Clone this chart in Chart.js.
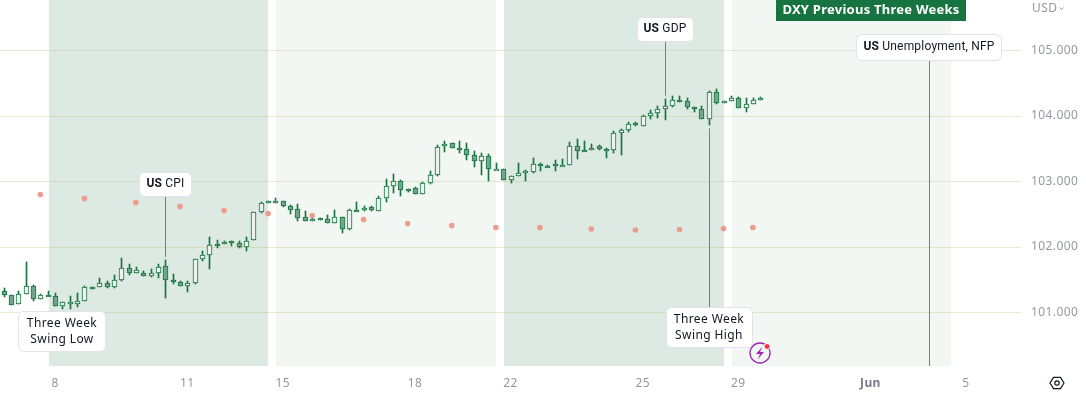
<!DOCTYPE html>
<html lang="en">
<head>
<meta charset="UTF-8">
<title>DXY Previous Three Weeks</title>
<style>
    html, body { margin: 0; padding: 0; background: #fff; }
    canvas { display: block; }
</style>
</head>
<body>
<canvas id="chart" width="1086" height="394"></canvas>
<script src="https://cdn.jsdelivr.net/npm/chart.js@4"></script>
<script>
// 4 hour DXY bars
const openV = [101.336,101.270,101.132,101.285,101.407,101.209,101.270,101.255,101.102,101.132,
    101.132,101.178,101.392,101.392,101.453,101.392,101.499,101.682,101.606,101.606,
    101.560,101.606,101.713,101.499,101.468,101.407,101.453,101.819,101.880,102.048,
    102.064,102.094,102.064,102.003,102.110,102.537,102.674,102.700,102.705,102.628,
    102.582,102.460,102.394,102.445,102.430,102.364,102.460,102.272,102.567,102.562,
    102.613,102.547,102.745,102.928,103.010,102.888,102.903,102.811,102.979,103.101,
    103.544,103.590,103.514,103.498,103.407,103.315,103.392,103.193,103.193,103.025,
    103.086,103.147,103.142,103.269,103.244,103.269,103.244,103.254,103.544,103.483,
    103.483,103.544,103.498,103.483,103.743,103.788,103.895,103.850,104.002,104.048,
    104.109,104.155,104.246,104.231,104.140,104.109,103.956,104.369,104.201,104.231,
    104.277,104.124,104.185,104.246];
const closeV = [101.265,101.117,101.280,101.407,101.209,101.270,101.255,101.102,101.163,101.163,
    101.178,101.392,101.377,101.453,101.392,101.499,101.682,101.606,101.651,101.560,
    101.606,101.697,101.499,101.468,101.407,101.453,101.819,101.880,102.033,102.033,
    102.074,102.064,102.003,102.094,102.537,102.674,102.705,102.710,102.623,102.562,
    102.440,102.394,102.430,102.414,102.364,102.460,102.272,102.567,102.547,102.598,
    102.562,102.750,102.934,103.010,102.873,102.852,102.811,102.979,103.101,103.529,
    103.575,103.514,103.498,103.407,103.315,103.392,103.193,103.193,103.025,103.086,
    103.132,103.163,103.269,103.234,103.234,103.249,103.254,103.544,103.468,103.463,
    103.514,103.498,103.488,103.743,103.788,103.880,103.880,104.002,104.048,104.109,
    104.155,104.246,104.216,104.140,104.109,103.956,104.369,104.201,104.231,104.277,
    104.124,104.185,104.246,104.277];
const highV = [101.382,101.270,101.331,101.779,101.422,101.285,101.331,101.300,101.163,101.255,
    101.300,101.407,101.392,101.529,101.484,101.575,101.835,101.743,101.697,101.636,
    101.667,101.743,101.804,101.590,101.484,101.484,101.819,101.942,102.155,102.110,
    102.094,102.094,102.094,102.155,102.537,102.690,102.705,102.751,102.705,102.643,
    102.659,102.552,102.455,102.445,102.491,102.567,102.460,102.582,102.689,102.628,
    102.628,102.781,103.040,103.117,103.025,102.888,102.918,102.995,103.163,103.560,
    103.621,103.590,103.621,103.590,103.468,103.437,103.422,103.285,103.193,103.086,
    103.285,103.178,103.361,103.285,103.254,103.330,103.346,103.605,103.651,103.621,
    103.575,103.559,103.514,103.773,103.804,103.911,103.911,104.017,104.094,104.155,
    104.262,104.308,104.308,104.277,104.140,104.155,104.384,104.414,104.231,104.308,
    104.287,104.277,104.277,104.292];
const lowV = [101.234,101.117,101.132,101.285,101.173,101.209,101.255,101.102,101.051,101.056,
    101.082,101.178,101.377,101.392,101.377,101.377,101.484,101.575,101.606,101.560,
    101.545,101.529,101.219,101.438,101.407,101.311,101.438,101.789,101.662,101.987,
    102.043,102.018,101.987,101.942,102.110,102.522,102.674,102.679,102.608,102.501,
    102.394,102.394,102.394,102.414,102.364,102.364,102.211,102.257,102.547,102.547,
    102.547,102.547,102.684,102.822,102.776,102.837,102.811,102.811,102.964,103.086,
    103.453,103.514,103.437,103.330,103.224,103.101,103.010,103.193,103.025,102.979,
    103.086,103.015,103.127,103.168,103.229,103.168,103.234,103.254,103.341,103.463,
    103.483,103.483,103.356,103.432,103.402,103.753,103.855,103.850,103.951,103.972,
    103.941,104.140,104.216,104.114,104.063,103.956,103.860,104.185,104.201,104.231,
    104.124,104.063,104.185,104.246];

// daily salmon dots
const dotIndex = [5,11,18,24,30,36,42,49,55,61,67,73,80,86,92,98,102];
const dotPrice = [102.802,102.740,102.679,102.618,102.557,102.511,102.481,102.420,102.359,102.328,
    102.298,102.298,102.275,102.260,102.267,102.282,102.298];

const slotCount = 139;
const tickIndex = [7,25,38,56,69,87,100,118,131];
const tickText = ['8','11','15','18','22','25','29','Jun','5'];
const priceTicks = [101,102,103,104,105];

// week bands as bar positions, dark and light in turn
const bandFrom = [6.17,37.08,68.1,99.16];
const bandTo = [36.0,67.03,98.07,129.0];
const bandFill = ['#dde9e3','#f2f7f4','#dde9e3','#f2f7f4'];

const stemIndex = [22,90,96,126];
const stemPrice = [101.85,104.31,103.81,100.184];
const stemTopPx = [196,41,307,60];

const FONT = '"Noto Sans", "Open Sans", sans-serif';
const LABEL_FONT = 'Roboto, "Noto Sans", sans-serif';
const GREEN = '#17733f';

const labels = Array(slotCount).fill('');
tickIndex.forEach((i, k) => { labels[i] = tickText[k]; });

const dots = labels.map((_, i) => {
    const k = dotIndex.indexOf(i);
    return k < 0 ? null : dotPrice[k];
});
const bodies = openV.map((o, i) => [o, closeV[i]]);
const wicks = lowV.map((l, i) => [l, highV[i]]);
const bodyFill = openV.map((o, i) => closeV[i] >= o ? '#eaf2ee' : '#6fa78b');

function roundRect(ctx, x, y, w, h, fill, stroke) {
    ctx.beginPath();
    ctx.roundRect(x + 0.5, y + 0.5, w, h, 5);
    ctx.fillStyle = fill;
    ctx.fill();
    ctx.strokeStyle = stroke;
    ctx.lineWidth = 1;
    ctx.stroke();
}

function drawCountryLabel(ctx, cx, cy, bold, rest) {
    ctx.letterSpacing = '0.2px';
    ctx.textBaseline = 'middle';
    ctx.textAlign = 'left';
    ctx.font = 'bold 12px ' + LABEL_FONT;
    const w1 = ctx.measureText(bold + ' ').width;
    ctx.font = '12px ' + LABEL_FONT;
    const w2 = ctx.measureText(rest).width;
    const left = cx - (w1 + w2) / 2;
    ctx.fillStyle = '#131722';
    ctx.font = 'bold 12px ' + LABEL_FONT;
    ctx.fillText(bold, left, cy);
    ctx.font = '12px ' + LABEL_FONT;
    ctx.fillText(rest, left + w1, cy);
}

function drawTwoLines(ctx, cx, cy, a, b) {
    ctx.letterSpacing = '0.4px';
    ctx.textAlign = 'center';
    ctx.textBaseline = 'middle';
    ctx.fillStyle = '#131722';
    ctx.font = '12px ' + FONT;
    ctx.fillText(a, cx, cy - 8);
    ctx.fillText(b, cx, cy + 8);
}

// the axes must not pull the plot in for half a label
function noScalePadding(scale) {
    scale.paddingLeft = 0;
    scale.paddingRight = 0;
    scale.paddingTop = 0;
    scale.paddingBottom = 0;
}

const chartDecor = {
    id: 'chartDecor',
    beforeDraw(chart) {
        const { ctx, chartArea: area, scales: { x } } = chart;
        ctx.letterSpacing = '0.4px';
        bandFrom.forEach((from, i) => {
            const a = Math.round(x.getPixelForValue(from));
            const b = Math.round(x.getPixelForValue(bandTo[i]));
            ctx.fillStyle = bandFill[i];
            ctx.fillRect(a, area.top, b - a, area.bottom - area.top);
        });
    },
    // snap candles on whole pixels so they stay crisp
    afterDatasetsUpdate(chart) {
        [0, 1].forEach(d => {
            chart.getDatasetMeta(d).data.forEach(el => {
                el.x = Math.round(el.x) + 0.5;
                let top = Math.round(Math.min(el.y, el.base));
                let bottom = Math.round(Math.max(el.y, el.base));
                if (bottom - top < 2) bottom = top + 2;
                el.y = top;
                el.base = bottom;
                el.height = bottom - top;
            });
        });
    },
    afterDraw(chart) {
        const { ctx, scales: { x, y } } = chart;
        ctx.save();

        // stems
        ctx.strokeStyle = '#787b86';
        ctx.lineWidth = 1;
        stemIndex.forEach((idx, i) => {
            const px = Math.round(x.getPixelForValue(idx)) + 0.5;
            ctx.beginPath();
            ctx.moveTo(px, stemTopPx[i]);
            ctx.lineTo(px, y.getPixelForValue(stemPrice[i]));
            ctx.stroke();
        });

        // callouts
        const edge = '#e0e3eb';
        roundRect(ctx, 139, 172, 52, 24, '#fff', edge);
        drawCountryLabel(ctx, 165.5, 184, 'US', 'CPI');
        roundRect(ctx, 637, 17, 56, 24, '#fff', edge);
        drawCountryLabel(ctx, 665, 29, 'US', 'GDP');
        roundRect(ctx, 856, 34, 145, 26, '#fff', edge);
        drawCountryLabel(ctx, 929, 47, 'US', 'Unemployment, NFP');
        roundRect(ctx, 18, 311, 87, 40, '#fff', edge);
        drawTwoLines(ctx, 62, 332, 'Three Week', 'Swing Low');
        roundRect(ctx, 666, 307, 86, 40, '#fff', edge);
        drawTwoLines(ctx, 709, 328, 'Three Week', 'Swing High');

        // banner
        ctx.fillStyle = GREEN;
        ctx.fillRect(776, 0, 190, 21);
        ctx.fillStyle = '#fff';
        ctx.letterSpacing = '0.25px';
        ctx.font = 'bold 13px ' + FONT;
        ctx.textAlign = 'center';
        ctx.textBaseline = 'middle';
        ctx.fillText('DXY Previous Three Weeks', 871, 10.5);

        // currency label
        ctx.letterSpacing = '0.4px';
        ctx.fillStyle = '#9598a1';
        ctx.font = '12px ' + FONT;
        ctx.textAlign = 'left';
        ctx.fillText('USD', 1032, 9);
        ctx.strokeStyle = '#9598a1';
        ctx.beginPath();
        ctx.moveTo(1059.5, 7.5);
        ctx.lineTo(1061.5, 9.5);
        ctx.lineTo(1063.5, 7.5);
        ctx.stroke();

        // settings hexagon
        ctx.strokeStyle = '#131722';
        ctx.lineWidth = 1.2;
        ctx.beginPath();
        for (let i = 0; i < 6; i++) {
            const a = Math.PI / 3 * i;
            const hx = 1057 + 7 * Math.cos(a);
            const hy = 383 + 6.5 * Math.sin(a);
            if (i === 0) ctx.moveTo(hx, hy); else ctx.lineTo(hx, hy);
        }
        ctx.closePath();
        ctx.stroke();
        ctx.beginPath();
        ctx.arc(1057, 383, 2.2, 0, Math.PI * 2);
        ctx.stroke();

        // lightning badge
        ctx.strokeStyle = '#9c27b0';
        ctx.lineWidth = 1.3;
        ctx.beginPath();
        ctx.arc(760, 353, 10, 0, Math.PI * 2);
        ctx.stroke();
        ctx.fillStyle = '#9c27b0';
        ctx.beginPath();
        ctx.moveTo(762.5, 346.5);
        ctx.lineTo(756, 354);
        ctx.lineTo(760, 354);
        ctx.lineTo(757.5, 359.5);
        ctx.lineTo(764, 352);
        ctx.lineTo(760, 352);
        ctx.closePath();
        ctx.fill();
        ctx.strokeStyle = '#fff';
        ctx.lineWidth = 1;
        ctx.fillStyle = '#f7304e';
        ctx.beginPath();
        ctx.arc(767, 346.5, 3, 0, Math.PI * 2);
        ctx.fill();
        ctx.stroke();

        ctx.restore();
    }
};

new Chart(document.getElementById('chart'), {
    data: {
        labels: labels,
        datasets: [
            {
                type: 'bar',
                data: wicks,
                grouped: false,
                barThickness: 1,
                backgroundColor: GREEN,
                order: 3
            },
            {
                type: 'bar',
                data: bodies,
                grouped: false,
                barThickness: 5,
                backgroundColor: bodyFill,
                borderColor: GREEN,
                borderWidth: 1,
                borderSkipped: false,
                order: 2
            },
            {
                type: 'line',
                data: dots,
                showLine: false,
                pointRadius: 2.8,
                pointBorderWidth: 0,
                pointBackgroundColor: '#ee9c8c',
                order: 1
            }
        ]
    },
    options: {
        responsive: false,
        animation: false,
        layout: { autoPadding: false },
        plugins: { legend: { display: false }, tooltip: { enabled: false } },
        scales: {
            x: {
                type: 'category',
                offset: true,
                afterFit(scale) { scale.height = 28; noScalePadding(scale); },
                grid: { display: false },
                border: { display: false },
                ticks: {
                    autoSkip: false,
                    maxRotation: 0,
                    padding: 2,
                    callback: (v, i) => labels[i],
                    font: ctx => ({
                        family: FONT,
                        size: 12,
                        weight: labels[ctx.index] === 'Jun' ? 'bold' : 'normal'
                    }),
                    color: ctx => labels[ctx.index] === 'Jun' ? '#787b86' : '#9598a1'
                }
            },
            y: {
                type: 'linear',
                position: 'right',
                min: 100.184,
                max: 105.771,
                afterFit(scale) { scale.width = 65; noScalePadding(scale); },
                afterBuildTicks(scale) { scale.ticks = priceTicks.map(v => ({ value: v })); },
                grid: { color: 'rgba(196,196,130,0.38)', drawTicks: false },
                border: { display: false },
                ticks: {
                    padding: 10,
                    callback: v => v.toFixed(3),
                    font: { family: FONT, size: 12 },
                    color: '#9598a1'
                }
            }
        }
    },
    plugins: [chartDecor]
});
</script>
</body>
</html>
